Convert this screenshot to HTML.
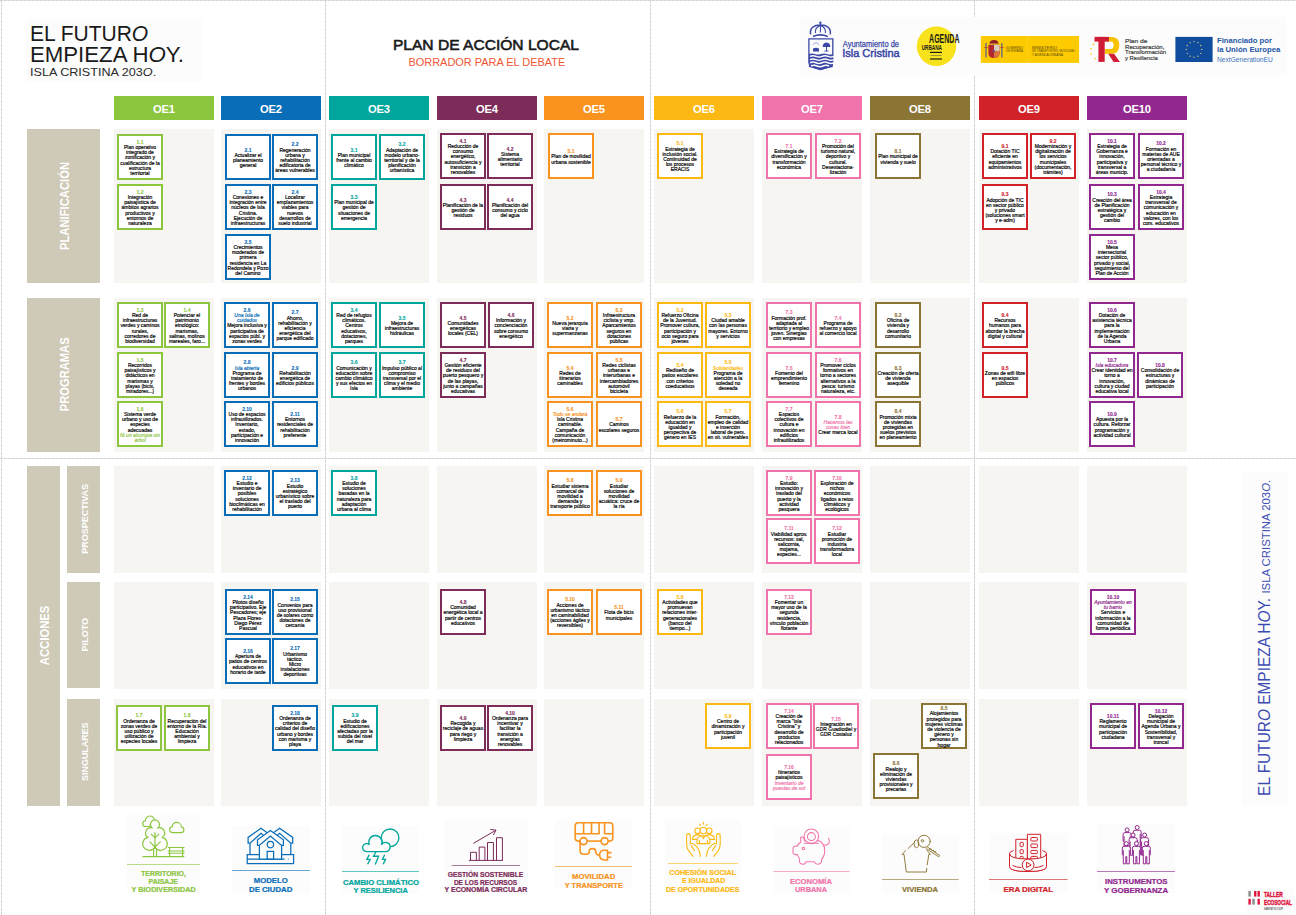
<!DOCTYPE html>
<html><head><meta charset="utf-8"><title>Plan de Acción Local</title>
<style>
*{margin:0;padding:0;box-sizing:border-box}
html,body{width:1296px;height:915px;overflow:hidden;background:#fff}
body{position:relative;font-family:"Liberation Sans",sans-serif;color:#1a1a1a}
.a{position:absolute}
.vd{position:absolute;top:0;width:1px;height:915px;background:repeating-linear-gradient(to bottom,#d4d4d4 0 3px,#ececec 3px 4px)}
.hd{position:absolute;left:0;height:1px;width:1296px;background:repeating-linear-gradient(to right,#d4d4d4 0 3px,#ececec 3px 4px)}
.oe{position:absolute;top:96px;width:100px;height:24px;color:#fff;font-weight:bold;font-size:11.2px;text-align:center;line-height:27px;letter-spacing:-0.2px;text-indent:-0.2px}
.col{position:absolute;width:100px;background:#f6f5f1}
.lab{position:absolute;background:#cfc9b7}
.lt{position:absolute;color:#fff;font-weight:bold;white-space:nowrap;transform-origin:0 0;transform:rotate(-90deg)}
.bx{position:absolute;width:46px;height:46px;border:2px solid;background:#fff;display:flex;align-items:center;justify-content:center}
.bt{font-size:5px;line-height:5.24px;font-weight:normal;text-align:center;white-space:nowrap;color:#000;-webkit-text-stroke:0.18px #000;position:relative;top:1px}
.bt i{font-style:italic}
.ic{position:absolute;background:#fcfcfc}
.it{position:absolute;font-weight:bold;text-align:center;white-space:nowrap;font-size:6.8px;line-height:8px}
</style></head><body>

<div class="hd" style="top:0"></div>
<div class="vd" style="left:1px"></div>
<div class="vd" style="left:325px"></div>
<div class="vd" style="left:650px"></div>
<div class="vd" style="left:974px"></div>
<div class="hd" style="top:458px"></div>
<div class="a" style="left:26px;top:20px;width:176px;height:62px;background:#fcfcfc"></div>
<svg class="a" style="left:0;top:0;overflow:visible" width="1" height="1"><text x="29.9" y="41.1" textLength="118.3" lengthAdjust="spacingAndGlyphs" font-family="Liberation Sans" font-size="22" fill="#1a1a1a">EL FUTUR<tspan font-style="italic">O</tspan></text><text x="29.9" y="61.9" textLength="154.1" lengthAdjust="spacingAndGlyphs" font-family="Liberation Sans" font-size="22" fill="#1a1a1a">EMPIEZA H<tspan font-style="italic">O</tspan>Y.</text><text x="30" y="75.9" textLength="126.2" lengthAdjust="spacingAndGlyphs" font-family="Liberation Sans" font-size="11.6" fill="#2a2a2a">ISLA CRISTINA 203<tspan font-style="italic">O</tspan>.</text><text x="392.9" y="50.1" textLength="186.1" lengthAdjust="spacingAndGlyphs" font-family="Liberation Sans" font-size="13.9" fill="#1a1a1a" stroke="#1a1a1a" stroke-width="0.55">PLAN DE ACCIÓN LOCAL</text><text x="408.4" y="66" textLength="157" lengthAdjust="spacingAndGlyphs" font-family="Liberation Sans" font-size="11" fill="#ef5535">BORRADOR PARA EL DEBATE</text></svg>
<div class="a" style="left:800px;top:17px;width:487px;height:58px;background:#fcfcfc"></div>
<svg class="a" style="left:808px;top:17px;overflow:visible" width="26" height="54" viewBox="0 0 26 54" ><g stroke="#3a47a6" fill="none"><circle cx="12.4" cy="5.8" r="1.2" fill="#3a47a6" stroke="none"/><path d="M12.4 6.8V15.6" stroke-width="1.1"/><path d="M2.6 17.4C1.4 11 6 8 12.4 8C18.8 8 23.4 11 22.2 17.4" stroke-width="1.5"/><path d="M7.4 16.2Q6.6 10.6 12.4 8.6M17.4 16.2Q18.2 10.6 12.4 8.6" stroke-width="1.1"/><path d="M5 19.4Q12.4 16.4 19.8 19.4" stroke-width="1.6"/><path d="M0.9 21.9H24.8V45.5Q24.8 49.5 12.4 52.6Q0.9 49.5 0.9 45.5Z" stroke-width="1.3"/></g><g fill="#3a47a6"><path d="M5 31.5Q8 30.2 11 31.5V34.5H5Z"/><path d="M4.6 28Q7.8 23.5 11.3 28" fill="none" stroke="#3a47a6" stroke-width="0.5"/><path d="M14.8 30Q14.2 26 18.5 25.4Q22.8 26 22.2 30Z"/><rect x="18" y="29.5" width="1" height="4.4"/><rect x="16.4" y="33.6" width="4.2" height="0.9"/><path d="M0.9 37Q4 35.8 6.9 37T12.9 37T18.9 37T24.8 37V50L12.4 53L0.9 50Z"/></g><g stroke="#fcfcfc" stroke-width="1.5" fill="none"><path d="M2 39.4Q5 38 8 39.4T14 39.4T20 39.4T26 39.4"/><path d="M2 42.6Q5 41.2 8 42.6T14 42.6T20 42.6T26 42.6"/><path d="M2 45.8Q5 44.4 8 45.8T14 45.8T20 45.8T26 45.8"/><path d="M3 49Q6 47.6 9 49T15 49T21 49"/></g></svg>
<svg class="a" style="left:0;top:0;overflow:visible" width="1" height="1"><text x="842.8" y="46.5" textLength="56.200000000000045" lengthAdjust="spacingAndGlyphs" font-family="Liberation Sans" font-weight="normal" font-size="8.6" fill="#3a47a6" stroke="#3a47a6" stroke-width="0.25">Ayuntamiento de</text><text x="842.2" y="56.9" textLength="57.5" lengthAdjust="spacingAndGlyphs" font-family="Liberation Sans" font-weight="normal" font-size="10.5" fill="#3a47a6" stroke="#3a47a6" stroke-width="0.45">Isla Cristina</text></svg>
<svg class="a" style="left:0;top:0;overflow:visible" width="1" height="1"><circle cx="936.5" cy="46.2" r="19.7" fill="#f7e21b"/><text x="929.1" y="42.7" textLength="30.399999999999977" lengthAdjust="spacingAndGlyphs" font-family="Liberation Sans" font-weight="bold" font-size="12.5" fill="#1a1a1a" >AGENDA</text><text x="921.7" y="49.8" textLength="20.299999999999955" lengthAdjust="spacingAndGlyphs" font-family="Liberation Sans" font-weight="bold" font-size="7.8" fill="#1a1a1a" >URBANA</text><rect x="930" y="51.8" width="12" height="1.2" fill="#1a1a1a"/><rect x="930" y="58.4" width="12" height="1.2" fill="#1a1a1a"/><rect x="930.5" y="55" width="11" height="0.9" fill="#555" opacity="0.6"/></svg>
<svg class="a" style="left:0;top:0;overflow:visible" width="1" height="1"><rect x="980.8" y="36" width="98.3" height="26.9" fill="#fdcb00"/><path d="M1027.4 37V62" stroke="#fde58a" stroke-width="0.5" stroke-dasharray="1 1"/><rect x="985.2" y="43" width="1.6" height="14.5" fill="#7d7a70"/><rect x="1001" y="43" width="1.6" height="14.5" fill="#7d7a70"/><path d="M988.4 45H999.6V53Q999.6 58 994 58Q988.4 58 988.4 53Z" fill="#b3262e"/><rect x="994" y="45" width="5.6" height="6" fill="#d8cdbd"/><path d="M994 51H999.6V53Q999.6 58 994 58Z" fill="#d9763a"/><circle cx="994" cy="51" r="1.3" fill="#6d5a8a"/><path d="M989.5 44.2Q989.5 40 994 40Q998.5 40 998.5 44.2Z" fill="#8e1f2a"/><rect x="990" y="43.4" width="8" height="1.2" fill="#c9a13c"/><rect x="984.4" y="47" width="3.2" height="0.8" fill="#c42c2c"/><rect x="1000.4" y="47" width="3.2" height="0.8" fill="#c42c2c"/><text x="1006" y="48.6" textLength="17" lengthAdjust="spacingAndGlyphs" font-family="Liberation Sans" font-weight="normal" font-size="3.6" fill="#5a4a10" >GOBIERNO</text><text x="1006" y="52.4" textLength="17" lengthAdjust="spacingAndGlyphs" font-family="Liberation Sans" font-weight="normal" font-size="3.6" fill="#5a4a10" >DE ESPAÑA</text><text x="1032" y="48.6" textLength="25" lengthAdjust="spacingAndGlyphs" font-family="Liberation Sans" font-weight="normal" font-size="3.6" fill="#5a4a10" >MINISTERIO</text><text x="1032" y="52.2" textLength="43" lengthAdjust="spacingAndGlyphs" font-family="Liberation Sans" font-weight="normal" font-size="3.6" fill="#5a4a10" >DE TRANSPORTES, MOVILIDAD</text><text x="1032" y="55.8" textLength="31" lengthAdjust="spacingAndGlyphs" font-family="Liberation Sans" font-weight="normal" font-size="3.6" fill="#5a4a10" >Y AGENDA URBANA</text></svg>
<svg class="a" style="left:0;top:0;overflow:visible" width="1" height="1"><path d="M1105 36.9H1111.5Q1119.3 36.9 1119.3 45.3Q1119.3 53.7 1111.5 53.7H1104.7V49H1111Q1113.6 49 1113.6 45.3Q1113.6 41.6 1111 41.6H1105Z" fill="#f8c200"/><rect x="1094.5" y="36.9" width="14.4" height="4.7" fill="#cf1d36"/><rect x="1098.4" y="36.9" width="6.3" height="25" fill="#cf1d36"/><path d="M1108.2 53.7H1114L1120 62H1113.6Z" fill="#cf1d36"/><circle cx="1093.6" cy="44.4" r="0.8" fill="#f8c200"/><circle cx="1091" cy="48.8" r="0.8" fill="#f8c200"/><circle cx="1091.2" cy="54" r="0.8" fill="#f8c200"/><circle cx="1095.2" cy="58.8" r="0.8" fill="#f8c200"/><text x="1125" y="42.6" textLength="22.299999999999955" lengthAdjust="spacingAndGlyphs" font-family="Liberation Sans" font-weight="normal" font-size="6.2" fill="#3d3d3d" stroke="#3d3d3d" stroke-width="0.2">Plan de</text><text x="1125" y="48.6" textLength="39.40000000000009" lengthAdjust="spacingAndGlyphs" font-family="Liberation Sans" font-weight="normal" font-size="6.2" fill="#3d3d3d" stroke="#3d3d3d" stroke-width="0.2">Recuperación,</text><text x="1125" y="54.4" textLength="41" lengthAdjust="spacingAndGlyphs" font-family="Liberation Sans" font-weight="normal" font-size="6.2" fill="#3d3d3d" stroke="#3d3d3d" stroke-width="0.2">Transformación</text><text x="1125" y="60.2" textLength="32.799999999999955" lengthAdjust="spacingAndGlyphs" font-family="Liberation Sans" font-weight="normal" font-size="6.2" fill="#3d3d3d" stroke="#3d3d3d" stroke-width="0.2">y Resiliencia</text></svg>
<svg class="a" style="left:0;top:0;overflow:visible" width="1" height="1"><rect x="1175.4" y="36.9" width="37.2" height="25.1" fill="#0f4c9e"/><circle cx="1201.80" cy="49.40" r="0.65" fill="#ecd96b"/><circle cx="1200.75" cy="53.30" r="0.65" fill="#ecd96b"/><circle cx="1197.90" cy="56.15" r="0.65" fill="#ecd96b"/><circle cx="1194.00" cy="57.20" r="0.65" fill="#ecd96b"/><circle cx="1190.10" cy="56.15" r="0.65" fill="#ecd96b"/><circle cx="1187.25" cy="53.30" r="0.65" fill="#ecd96b"/><circle cx="1186.20" cy="49.40" r="0.65" fill="#ecd96b"/><circle cx="1187.25" cy="45.50" r="0.65" fill="#ecd96b"/><circle cx="1190.10" cy="42.65" r="0.65" fill="#ecd96b"/><circle cx="1194.00" cy="41.60" r="0.65" fill="#ecd96b"/><circle cx="1197.90" cy="42.65" r="0.65" fill="#ecd96b"/><circle cx="1200.75" cy="45.50" r="0.65" fill="#ecd96b"/><text x="1217" y="42.6" textLength="54.90000000000009" lengthAdjust="spacingAndGlyphs" font-family="Liberation Sans" font-weight="bold" font-size="7.4" fill="#1f56a6" >Financiado por</text><text x="1217" y="52.1" textLength="63.200000000000045" lengthAdjust="spacingAndGlyphs" font-family="Liberation Sans" font-weight="bold" font-size="7.4" fill="#1f56a6" >la Unión Europea</text><text x="1217" y="61.8" textLength="55.799999999999955" lengthAdjust="spacingAndGlyphs" font-family="Liberation Sans" font-weight="normal" font-size="6.4" fill="#3a74bb" >NextGenerationEU</text></svg>
<div class="a" style="left:1242px;top:472px;width:46px;height:333px;background:#fcfcfc"></div>
<svg class="a" style="left:0;top:0;overflow:visible" width="1" height="1"><text transform="translate(1269.6 795.9) rotate(-90)" font-family="Liberation Sans" font-size="16.4" fill="#3b4ab2" textLength="198" lengthAdjust="spacingAndGlyphs">EL FUTUR<tspan font-style="italic">O</tspan> EMPIEZA H<tspan font-style="italic">O</tspan>Y.</text><text transform="translate(1269.6 593.6) rotate(-90)" font-family="Liberation Sans" font-size="11.6" fill="#4050b4" textLength="113.8" lengthAdjust="spacingAndGlyphs">ISLA CRISTINA 203<tspan font-style="italic">O</tspan>.</text></svg>
<svg class="a" style="left:0;top:0;overflow:visible" width="1" height="1"><rect x="1247" y="889" width="48" height="24" fill="#fcfcfc"/><rect x="1248.4" y="891" width="2.4" height="5.6" fill="#8a8a8a"/><rect x="1254" y="891" width="2.4" height="5.6" fill="#e0163f"/><rect x="1257.5" y="891" width="2.4" height="5.6" fill="#e0163f"/><rect x="1248.4" y="898.8" width="2.4" height="5.8" fill="#e0163f"/><rect x="1252.3" y="898.8" width="2.4" height="5.8" fill="#8a8a8a"/><rect x="1257.5" y="898.8" width="2.4" height="5.8" fill="#e0163f"/><text x="1264" y="896.6" textLength="18.799999999999955" lengthAdjust="spacingAndGlyphs" font-family="Liberation Sans" font-weight="bold" font-size="7.6" fill="#e0163f" stroke="#e0163f" stroke-width="0.45">TALLER</text><text x="1264" y="904.6" textLength="27.90000000000009" lengthAdjust="spacingAndGlyphs" font-family="Liberation Sans" font-weight="bold" font-size="7.6" fill="#e0163f" stroke="#e0163f" stroke-width="0.45">ECOSOCIAL</text><text x="1264" y="909.8" textLength="19" lengthAdjust="spacingAndGlyphs" font-family="Liberation Sans" font-weight="bold" font-size="3.2" fill="#555" >HÁBITAT E COOP</text></svg>
<div class="oe" style="left:114px;background:#8cc63f">OE1</div>
<div class="oe" style="left:221px;background:#0a6db7">OE2</div>
<div class="oe" style="left:329px;background:#00a69c">OE3</div>
<div class="oe" style="left:437px;background:#7d2b59">OE4</div>
<div class="oe" style="left:544px;background:#f7931e">OE5</div>
<div class="oe" style="left:654px;background:#fdb913">OE6</div>
<div class="oe" style="left:762px;background:#f074ab">OE7</div>
<div class="oe" style="left:870px;background:#8b7535">OE8</div>
<div class="oe" style="left:979px;background:#d1222a">OE9</div>
<div class="oe" style="left:1087px;background:#92278f">OE10</div>
<div class="col" style="left:114px;top:129px;height:154px"></div>
<div class="col" style="left:221px;top:129px;height:154px"></div>
<div class="col" style="left:329px;top:129px;height:154px"></div>
<div class="col" style="left:437px;top:129px;height:154px"></div>
<div class="col" style="left:544px;top:129px;height:154px"></div>
<div class="col" style="left:654px;top:129px;height:154px"></div>
<div class="col" style="left:762px;top:129px;height:154px"></div>
<div class="col" style="left:870px;top:129px;height:154px"></div>
<div class="col" style="left:979px;top:129px;height:154px"></div>
<div class="col" style="left:1087px;top:129px;height:154px"></div>
<div class="col" style="left:114px;top:298px;height:154px"></div>
<div class="col" style="left:221px;top:298px;height:154px"></div>
<div class="col" style="left:329px;top:298px;height:154px"></div>
<div class="col" style="left:437px;top:298px;height:154px"></div>
<div class="col" style="left:544px;top:298px;height:154px"></div>
<div class="col" style="left:654px;top:298px;height:154px"></div>
<div class="col" style="left:762px;top:298px;height:154px"></div>
<div class="col" style="left:870px;top:298px;height:154px"></div>
<div class="col" style="left:979px;top:298px;height:154px"></div>
<div class="col" style="left:1087px;top:298px;height:154px"></div>
<div class="col" style="left:114px;top:466px;height:107px"></div>
<div class="col" style="left:221px;top:466px;height:107px"></div>
<div class="col" style="left:329px;top:466px;height:107px"></div>
<div class="col" style="left:437px;top:466px;height:107px"></div>
<div class="col" style="left:544px;top:466px;height:107px"></div>
<div class="col" style="left:654px;top:466px;height:107px"></div>
<div class="col" style="left:762px;top:466px;height:107px"></div>
<div class="col" style="left:870px;top:466px;height:107px"></div>
<div class="col" style="left:979px;top:466px;height:107px"></div>
<div class="col" style="left:1087px;top:466px;height:107px"></div>
<div class="col" style="left:114px;top:582px;height:107px"></div>
<div class="col" style="left:221px;top:582px;height:107px"></div>
<div class="col" style="left:329px;top:582px;height:107px"></div>
<div class="col" style="left:437px;top:582px;height:107px"></div>
<div class="col" style="left:544px;top:582px;height:107px"></div>
<div class="col" style="left:654px;top:582px;height:107px"></div>
<div class="col" style="left:762px;top:582px;height:107px"></div>
<div class="col" style="left:870px;top:582px;height:107px"></div>
<div class="col" style="left:979px;top:582px;height:107px"></div>
<div class="col" style="left:1087px;top:582px;height:107px"></div>
<div class="col" style="left:114px;top:699px;height:107px"></div>
<div class="col" style="left:221px;top:699px;height:107px"></div>
<div class="col" style="left:329px;top:699px;height:107px"></div>
<div class="col" style="left:437px;top:699px;height:107px"></div>
<div class="col" style="left:544px;top:699px;height:107px"></div>
<div class="col" style="left:654px;top:699px;height:107px"></div>
<div class="col" style="left:762px;top:699px;height:107px"></div>
<div class="col" style="left:870px;top:699px;height:107px"></div>
<div class="col" style="left:979px;top:699px;height:107px"></div>
<div class="col" style="left:1087px;top:699px;height:107px"></div>
<div class="lab" style="left:27px;top:129px;width:73px;height:154px"></div>
<div class="lab" style="left:27px;top:298px;width:73px;height:154px"></div>
<div class="lab" style="left:27px;top:466px;width:33px;height:340px"></div>
<div class="lab" style="left:67px;top:466px;width:33px;height:107px"></div>
<div class="lab" style="left:67px;top:582px;width:33px;height:106px"></div>
<div class="lab" style="left:67px;top:699px;width:33px;height:107px"></div>
<svg class="a" style="left:0;top:0;overflow:visible" width="1" height="1"><text transform="translate(68.8 206) rotate(-90)" text-anchor="middle" font-family="Liberation Sans" font-weight="bold" font-size="12.6" fill="#fff" textLength="88" lengthAdjust="spacingAndGlyphs">PLANIFICACIÓN</text></svg>
<svg class="a" style="left:0;top:0;overflow:visible" width="1" height="1"><text transform="translate(68.8 374.35) rotate(-90)" text-anchor="middle" font-family="Liberation Sans" font-weight="bold" font-size="12.6" fill="#fff" textLength="73.9" lengthAdjust="spacingAndGlyphs">PROGRAMAS</text></svg>
<svg class="a" style="left:0;top:0;overflow:visible" width="1" height="1"><text transform="translate(48.6 635.4) rotate(-90)" text-anchor="middle" font-family="Liberation Sans" font-weight="bold" font-size="12" fill="#fff" textLength="59.6" lengthAdjust="spacingAndGlyphs">ACCIONES</text></svg>
<svg class="a" style="left:0;top:0;overflow:visible" width="1" height="1"><text transform="translate(87.7 518.85) rotate(-90)" text-anchor="middle" font-family="Liberation Sans" font-weight="bold" font-size="9.6" fill="#fff" textLength="70" lengthAdjust="spacingAndGlyphs">PROSPECTIVAS</text></svg>
<svg class="a" style="left:0;top:0;overflow:visible" width="1" height="1"><text transform="translate(87.6 634.7) rotate(-90)" text-anchor="middle" font-family="Liberation Sans" font-weight="bold" font-size="9.6" fill="#fff" textLength="33.4" lengthAdjust="spacingAndGlyphs">PILOTO</text></svg>
<svg class="a" style="left:0;top:0;overflow:visible" width="1" height="1"><text transform="translate(87.6 751.7) rotate(-90)" text-anchor="middle" font-family="Liberation Sans" font-weight="bold" font-size="9.6" fill="#fff" textLength="58.4" lengthAdjust="spacingAndGlyphs">SINGULARES</text></svg>
<div class="bx" style="left:117px;top:134px;border-color:#8cc63f"><div class="bt"><b style="color:#8cc63f;-webkit-text-stroke:0.1px #8cc63f">1.1</b><br>Plan operativo<br>integrado de<br>zonificación y<br>cualificación de la<br>estructura<br>territorial</div></div>
<div class="bx" style="left:117px;top:184px;border-color:#8cc63f"><div class="bt"><b style="color:#8cc63f;-webkit-text-stroke:0.1px #8cc63f">1.2</b><br>Integración<br>paisajística de<br>ámbitos agrarios<br>productivos y<br>entornos de<br>naturaleza</div></div>
<div class="bx" style="left:225px;top:134px;border-color:#0a6db7"><div class="bt"><b style="color:#0a6db7;-webkit-text-stroke:0.1px #0a6db7">2.1</b><br>Actualizar el<br>planeamiento<br>general</div></div>
<div class="bx" style="left:272px;top:134px;border-color:#0a6db7"><div class="bt"><b style="color:#0a6db7;-webkit-text-stroke:0.1px #0a6db7">2.2</b><br>Regeneración<br>urbana y<br>rehabilitación<br>edificatoria de<br>áreas vulnerables</div></div>
<div class="bx" style="left:225px;top:184px;border-color:#0a6db7"><div class="bt"><b style="color:#0a6db7;-webkit-text-stroke:0.1px #0a6db7">2.3</b><br>Conexiones e<br>integración entre<br>núcleos de Isla<br>Cristina.<br>Ejecución de<br>infraestructuras</div></div>
<div class="bx" style="left:272px;top:184px;border-color:#0a6db7"><div class="bt"><b style="color:#0a6db7;-webkit-text-stroke:0.1px #0a6db7">2.4</b><br>Localizar<br>emplazamientos<br>viables para<br>nuevos<br>desarrollos de<br>suelo industrial</div></div>
<div class="bx" style="left:225px;top:234px;border-color:#0a6db7"><div class="bt"><b style="color:#0a6db7;-webkit-text-stroke:0.1px #0a6db7">2.5</b><br>Crecimientos<br>moderados de<br>primera<br>residencia en La<br>Redondela y Pozo<br>del Camino</div></div>
<div class="bx" style="left:331px;top:134px;border-color:#00a69c"><div class="bt"><b style="color:#00a69c;-webkit-text-stroke:0.1px #00a69c">3.1</b><br>Plan municipal<br>frente al cambio<br>climático</div></div>
<div class="bx" style="left:379px;top:134px;border-color:#00a69c"><div class="bt"><b style="color:#00a69c;-webkit-text-stroke:0.1px #00a69c">3.2</b><br>Adaptación de<br>modelo urbano-<br>territorial y de la<br>planificación<br>urbanística</div></div>
<div class="bx" style="left:331px;top:184px;border-color:#00a69c"><div class="bt"><b style="color:#00a69c;-webkit-text-stroke:0.1px #00a69c">3.3</b><br>Plan municipal de<br>gestión de<br>situaciones de<br>emergencia</div></div>
<div class="bx" style="left:440px;top:133px;border-color:#7d2b59"><div class="bt"><b style="color:#7d2b59;-webkit-text-stroke:0.1px #7d2b59">4.1</b><br>Reducción de<br>consumo<br>energético,<br>autosuficiencia y<br>transición a<br>renovables</div></div>
<div class="bx" style="left:487px;top:133px;border-color:#7d2b59"><div class="bt"><b style="color:#7d2b59;-webkit-text-stroke:0.1px #7d2b59">4.2</b><br>Sistema<br>alimentario<br>territorial</div></div>
<div class="bx" style="left:440px;top:184px;border-color:#7d2b59"><div class="bt"><b style="color:#7d2b59;-webkit-text-stroke:0.1px #7d2b59">4.3</b><br>Planificación de la<br>gestión de<br>residuos</div></div>
<div class="bx" style="left:487px;top:184px;border-color:#7d2b59"><div class="bt"><b style="color:#7d2b59;-webkit-text-stroke:0.1px #7d2b59">4.4</b><br>Planificación del<br>consumo y ciclo<br>del agua</div></div>
<div class="bx" style="left:548px;top:133px;border-color:#f7931e"><div class="bt"><b style="color:#f7931e;-webkit-text-stroke:0.1px #f7931e">5.1</b><br>Plan de movilidad<br>urbana sostenible</div></div>
<div class="bx" style="left:657px;top:133px;border-color:#fdb913"><div class="bt"><b style="color:#fdb913;-webkit-text-stroke:0.1px #fdb913">5.1</b><br>Estrategia de<br>inclusión social.<br>Continuidad de<br>los procesos<br>ERACIS</div></div>
<div class="bx" style="left:766px;top:133px;border-color:#f074ab"><div class="bt"><b style="color:#f074ab;-webkit-text-stroke:0.1px #f074ab">7.1</b><br>Estrategia de<br>diversificación y<br>transformación<br>económica</div></div>
<div class="bx" style="left:815px;top:133px;border-color:#f074ab"><div class="bt"><b style="color:#f074ab;-webkit-text-stroke:0.1px #f074ab">7.2</b><br>Promoción del<br>turismo natural,<br>deportivo y<br>cultural.<br>Desestaciona-<br>lización</div></div>
<div class="bx" style="left:875px;top:133px;border-color:#8b7535"><div class="bt"><b style="color:#8b7535;-webkit-text-stroke:0.1px #8b7535">8.1</b><br>Plan municipal de<br>vivienda y suelo</div></div>
<div class="bx" style="left:982px;top:133px;border-color:#d1222a"><div class="bt"><b style="color:#d1222a;-webkit-text-stroke:0.1px #d1222a">9.1</b><br>Dotación TIC<br>eficiente en<br>equipamientos<br>administrativos</div></div>
<div class="bx" style="left:1030px;top:133px;border-color:#d1222a"><div class="bt"><b style="color:#d1222a;-webkit-text-stroke:0.1px #d1222a">9.2</b><br>Modernización y<br>digitalización de<br>los servicios<br>municipales<br>(documentación,<br>trámites)</div></div>
<div class="bx" style="left:982px;top:184px;border-color:#d1222a"><div class="bt"><b style="color:#d1222a;-webkit-text-stroke:0.1px #d1222a">9.3</b><br>Adopción de TIC<br>en sector público<br>y privado<br>(soluciones smart<br>y e-adm)</div></div>
<div class="bx" style="left:1089px;top:133px;border-color:#92278f"><div class="bt"><b style="color:#92278f;-webkit-text-stroke:0.1px #92278f">10.1</b><br>Estrategia de<br>Gobernanza e<br>innovación,<br>participativa y<br>transversal a<br>áreas municip.</div></div>
<div class="bx" style="left:1138px;top:133px;border-color:#92278f"><div class="bt"><b style="color:#92278f;-webkit-text-stroke:0.1px #92278f">10.2</b><br>Formación en<br>materias de AUE<br>orientadas a<br>personal técnico y<br>a ciudadanía</div></div>
<div class="bx" style="left:1089px;top:184px;border-color:#92278f"><div class="bt"><b style="color:#92278f;-webkit-text-stroke:0.1px #92278f">10.3</b><br>Creación del área<br>de Planificación<br>estratégica y<br>gestión del<br>cambio</div></div>
<div class="bx" style="left:1138px;top:184px;border-color:#92278f"><div class="bt"><b style="color:#92278f;-webkit-text-stroke:0.1px #92278f">10.4</b><br>Estrategia<br>transversal de<br>comunicación y<br>educación en<br>valores, con los<br>cors. educativos</div></div>
<div class="bx" style="left:1089px;top:234px;border-color:#92278f"><div class="bt"><b style="color:#92278f;-webkit-text-stroke:0.1px #92278f">10.5</b><br>Mesa<br>intersectorial<br>sector público,<br>privado y social,<br>seguimiento del<br>Plan de Acción</div></div>
<div class="bx" style="left:117px;top:302px;border-color:#8cc63f"><div class="bt"><b style="color:#8cc63f;-webkit-text-stroke:0.1px #8cc63f">1.3</b><br>Red de<br>infraestructuras<br>verdes y caminos<br>rurales,<br>corredores de<br>biodiversidad</div></div>
<div class="bx" style="left:164px;top:302px;border-color:#8cc63f"><div class="bt"><b style="color:#8cc63f;-webkit-text-stroke:0.1px #8cc63f">1.4</b><br>Potenciar el<br>patrimonio<br>etnológico:<br>marismas,<br>salinas, molinos<br>mareales, faro...</div></div>
<div class="bx" style="left:117px;top:352px;border-color:#8cc63f"><div class="bt"><b style="color:#8cc63f;-webkit-text-stroke:0.1px #8cc63f">1.5</b><br>Recorridos<br>paisajísticos y<br>didácticos en<br>marismas y<br>playas (bicis,<br>miradores...)</div></div>
<div class="bx" style="left:117px;top:401px;border-color:#8cc63f"><div class="bt"><b style="color:#8cc63f;-webkit-text-stroke:0.1px #8cc63f">1.6</b><br>Sistema verde<br>urbano y uso de<br>especies<br>adecuadas<br><i style="color:#8cc63f;-webkit-text-stroke-color:#8cc63f">Ni un alcorque sin</i><br><i style="color:#8cc63f;-webkit-text-stroke-color:#8cc63f">árbol</i></div></div>
<div class="bx" style="left:224px;top:302px;border-color:#0a6db7"><div class="bt"><b style="color:#0a6db7;-webkit-text-stroke:0.1px #0a6db7">2.6</b><br><i style="color:#0a6db7;-webkit-text-stroke-color:#0a6db7">Una Isla de</i><br><i style="color:#0a6db7;-webkit-text-stroke-color:#0a6db7">cuidados</i><br>Mejora inclusiva y<br>participativa de<br>espacios públ. y<br>zonas verdes</div></div>
<div class="bx" style="left:272px;top:302px;border-color:#0a6db7"><div class="bt"><b style="color:#0a6db7;-webkit-text-stroke:0.1px #0a6db7">2.7</b><br>Ahorro,<br>rehabilitación y<br>eficiencia<br>energética del<br>parque edificado</div></div>
<div class="bx" style="left:224px;top:352px;border-color:#0a6db7"><div class="bt"><b style="color:#0a6db7;-webkit-text-stroke:0.1px #0a6db7">2.8</b><br><i style="color:#0a6db7;-webkit-text-stroke-color:#0a6db7">Isla abierta</i><br>Programa de<br>tratamiento de<br>frentes y bordes<br>urbanos</div></div>
<div class="bx" style="left:272px;top:352px;border-color:#0a6db7"><div class="bt"><b style="color:#0a6db7;-webkit-text-stroke:0.1px #0a6db7">2.9</b><br>Rehabilitación<br>energética de<br>edificios públicos</div></div>
<div class="bx" style="left:224px;top:401px;border-color:#0a6db7"><div class="bt"><b style="color:#0a6db7;-webkit-text-stroke:0.1px #0a6db7">2.10</b><br>Uso de espacios<br>infrautilizados.<br>Inventario,<br>estado,<br>participación e<br>innovación</div></div>
<div class="bx" style="left:272px;top:401px;border-color:#0a6db7"><div class="bt"><b style="color:#0a6db7;-webkit-text-stroke:0.1px #0a6db7">2.11</b><br>Entornos<br>residenciales de<br>rehabilitación<br>preferente</div></div>
<div class="bx" style="left:331px;top:302px;border-color:#00a69c"><div class="bt"><b style="color:#00a69c;-webkit-text-stroke:0.1px #00a69c">3.4</b><br>Red de refugios<br>climáticos.<br>Centros<br>educativos,<br>dotaciones,<br>parques</div></div>
<div class="bx" style="left:379px;top:302px;border-color:#00a69c"><div class="bt"><b style="color:#00a69c;-webkit-text-stroke:0.1px #00a69c">3.5</b><br>Mejora de<br>infraestructuras<br>hidráulicas</div></div>
<div class="bx" style="left:331px;top:352px;border-color:#00a69c"><div class="bt"><b style="color:#00a69c;-webkit-text-stroke:0.1px #00a69c">3.6</b><br>Comunicación y<br>educación sobre<br>cambio climático<br>y sus efectos en<br>Isla</div></div>
<div class="bx" style="left:379px;top:352px;border-color:#00a69c"><div class="bt"><b style="color:#00a69c;-webkit-text-stroke:0.1px #00a69c">3.7</b><br>Impulso público al<br>compromiso<br>transversal por el<br>clima y el medio<br>ambiente</div></div>
<div class="bx" style="left:440px;top:302px;border-color:#7d2b59"><div class="bt"><b style="color:#7d2b59;-webkit-text-stroke:0.1px #7d2b59">4.5</b><br>Comunidades<br>energéticas<br>locales (CEL)</div></div>
<div class="bx" style="left:488px;top:302px;border-color:#7d2b59"><div class="bt"><b style="color:#7d2b59;-webkit-text-stroke:0.1px #7d2b59">4.6</b><br>Información y<br>concienciación<br>sobre consumo<br>energético</div></div>
<div class="bx" style="left:440px;top:352px;border-color:#7d2b59"><div class="bt"><b style="color:#7d2b59;-webkit-text-stroke:0.1px #7d2b59">4.7</b><br>Gestión eficiente<br>de residuos del<br>puerto pesquero y<br>de las playas,<br>junto a campañas<br>educativas</div></div>
<div class="bx" style="left:547px;top:302px;border-color:#f7931e"><div class="bt"><b style="color:#f7931e;-webkit-text-stroke:0.1px #f7931e">5.2</b><br>Nueva jerarquía<br>viaria y<br>supermanzanas</div></div>
<div class="bx" style="left:596px;top:302px;border-color:#f7931e"><div class="bt"><b style="color:#f7931e;-webkit-text-stroke:0.1px #f7931e">5.3</b><br>Infraestructura<br>ciclista y vmp.<br>Aparcamientos<br>seguros en<br>dotaciones<br>públicas</div></div>
<div class="bx" style="left:547px;top:352px;border-color:#f7931e"><div class="bt"><b style="color:#f7931e;-webkit-text-stroke:0.1px #f7931e">5.4</b><br>Redes de<br>itinerarios<br>caminables</div></div>
<div class="bx" style="left:596px;top:352px;border-color:#f7931e"><div class="bt"><b style="color:#f7931e;-webkit-text-stroke:0.1px #f7931e">5.5</b><br>Redes ciclistas<br>urbanas e<br>interurbanas e<br>intercambiadores<br>automóvil<br>bicicleta</div></div>
<div class="bx" style="left:547px;top:401px;border-color:#f7931e"><div class="bt"><b style="color:#f7931e;-webkit-text-stroke:0.1px #f7931e">5.6</b><br><i style="color:#f7931e;-webkit-text-stroke-color:#f7931e">Todo se andará</i><br>Isla Cristina<br>caminable.<br>Campaña de<br>comunicación<br>(metrominuto...)</div></div>
<div class="bx" style="left:596px;top:401px;border-color:#f7931e"><div class="bt"><b style="color:#f7931e;-webkit-text-stroke:0.1px #f7931e">5.7</b><br>Caminos<br>escolares seguros</div></div>
<div class="bx" style="left:657px;top:302px;border-color:#fdb913"><div class="bt"><b style="color:#fdb913;-webkit-text-stroke:0.1px #fdb913">5.2</b><br>Refuerzo Oficina<br>de la Juventud.<br>Promover cultura,<br>participación y<br>ocio seguro para<br>jóvenes</div></div>
<div class="bx" style="left:705px;top:302px;border-color:#fdb913"><div class="bt"><b style="color:#fdb913;-webkit-text-stroke:0.1px #fdb913">5.3</b><br>Ciudad amable<br>con las personas<br>mayores. Entorno<br>y servicios</div></div>
<div class="bx" style="left:657px;top:352px;border-color:#fdb913"><div class="bt"><b style="color:#fdb913;-webkit-text-stroke:0.1px #fdb913">5.4</b><br>Rediseño de<br>patios escolares<br>con criterios<br>coeducativos</div></div>
<div class="bx" style="left:705px;top:352px;border-color:#fdb913"><div class="bt"><b style="color:#fdb913;-webkit-text-stroke:0.1px #fdb913">5.5</b><br><i style="color:#fdb913;-webkit-text-stroke-color:#fdb913">Solidaridades</i><br>Programa de<br>atención a la<br>soledad no<br>deseada</div></div>
<div class="bx" style="left:657px;top:401px;border-color:#fdb913"><div class="bt"><b style="color:#fdb913;-webkit-text-stroke:0.1px #fdb913">5.6</b><br>Refuerzo de la<br>educación en<br>igualdad y<br>perspectiva de<br>género en IES</div></div>
<div class="bx" style="left:705px;top:401px;border-color:#fdb913"><div class="bt"><b style="color:#fdb913;-webkit-text-stroke:0.1px #fdb913">5.7</b><br>Formación,<br>empleo de calidad<br>e inserción<br>laboral de pers.<br>en sit. vulnerables</div></div>
<div class="bx" style="left:766px;top:302px;border-color:#f074ab"><div class="bt"><b style="color:#f074ab;-webkit-text-stroke:0.1px #f074ab">7.3</b><br>Formación prof.<br>adaptada al<br>territorio y empleo<br>joven. Sinergias<br>con empresas</div></div>
<div class="bx" style="left:815px;top:302px;border-color:#f074ab"><div class="bt"><b style="color:#f074ab;-webkit-text-stroke:0.1px #f074ab">7.4</b><br>Programa de<br>refuerzo y apoyo<br>al comercio local</div></div>
<div class="bx" style="left:766px;top:352px;border-color:#f074ab"><div class="bt"><b style="color:#f074ab;-webkit-text-stroke:0.1px #f074ab">7.5</b><br>Fomento del<br>emprendimiento<br>femenino</div></div>
<div class="bx" style="left:815px;top:352px;border-color:#f074ab"><div class="bt"><b style="color:#f074ab;-webkit-text-stroke:0.1px #f074ab">7.6</b><br>Promover ciclos<br>formativos en<br>torno a sectores<br>alternativos a la<br>pesca: turismo<br>naturaleza, etc.</div></div>
<div class="bx" style="left:766px;top:401px;border-color:#f074ab"><div class="bt"><b style="color:#f074ab;-webkit-text-stroke:0.1px #f074ab">7.7</b><br>Espacios<br>colectivos de<br>cultura e<br>innovación en<br>edificios<br>infrautilizados</div></div>
<div class="bx" style="left:815px;top:401px;border-color:#f074ab"><div class="bt"><b style="color:#f074ab;-webkit-text-stroke:0.1px #f074ab">7.8</b><br><i style="color:#f074ab;-webkit-text-stroke-color:#f074ab">Hacemos las</i><br><i style="color:#f074ab;-webkit-text-stroke-color:#f074ab">cosas bien</i><br>Crear marca local</div></div>
<div class="bx" style="left:875px;top:302px;border-color:#8b7535"><div class="bt"><b style="color:#8b7535;-webkit-text-stroke:0.1px #8b7535">8.2</b><br>Oficina de<br>vivienda y<br>desarrollo<br>comunitario</div></div>
<div class="bx" style="left:875px;top:352px;border-color:#8b7535"><div class="bt"><b style="color:#8b7535;-webkit-text-stroke:0.1px #8b7535">8.3</b><br>Creación de oferta<br>de vivienda<br>asequible</div></div>
<div class="bx" style="left:875px;top:401px;border-color:#8b7535"><div class="bt"><b style="color:#8b7535;-webkit-text-stroke:0.1px #8b7535">8.4</b><br>Promoción mixta<br>de viviendas<br>protegidas en<br>suelos previstos<br>en planeamiento</div></div>
<div class="bx" style="left:982px;top:302px;border-color:#d1222a"><div class="bt"><b style="color:#d1222a;-webkit-text-stroke:0.1px #d1222a">9.4</b><br>Recursos<br>humanos para<br>abordar la brecha<br>digital y cultural</div></div>
<div class="bx" style="left:982px;top:352px;border-color:#d1222a"><div class="bt"><b style="color:#d1222a;-webkit-text-stroke:0.1px #d1222a">9.5</b><br>Zonas de wifi libre<br>en espacios<br>públicos</div></div>
<div class="bx" style="left:1089px;top:302px;border-color:#92278f"><div class="bt"><b style="color:#92278f;-webkit-text-stroke:0.1px #92278f">10.6</b><br>Dotación de<br>asistencia técnica<br>para la<br>implementación<br>de la Agenda<br>Urbana</div></div>
<div class="bx" style="left:1089px;top:352px;border-color:#92278f"><div class="bt"><b style="color:#92278f;-webkit-text-stroke:0.1px #92278f">10.7</b><br><i style="color:#92278f;-webkit-text-stroke-color:#92278f">Isla educadora</i><br>Crear identidad en<br>torno a<br>innovación,<br>cultura y ciudad<br>educativa local</div></div>
<div class="bx" style="left:1137px;top:352px;border-color:#92278f"><div class="bt"><b style="color:#92278f;-webkit-text-stroke:0.1px #92278f">10.8</b><br>Consolidación de<br>estructuras y<br>dinámicas de<br>participación</div></div>
<div class="bx" style="left:1089px;top:401px;border-color:#92278f"><div class="bt"><b style="color:#92278f;-webkit-text-stroke:0.1px #92278f">10.9</b><br>Apuesta por la<br>cultura. Reforzar<br>programación y<br>actividad cultural</div></div>
<div class="bx" style="left:224px;top:470px;border-color:#0a6db7"><div class="bt"><b style="color:#0a6db7;-webkit-text-stroke:0.1px #0a6db7">2.12</b><br>Estudio e<br>inventario de<br>posibles<br>soluciones<br>bioclimáticas en<br>rehabilitación</div></div>
<div class="bx" style="left:272px;top:470px;border-color:#0a6db7"><div class="bt"><b style="color:#0a6db7;-webkit-text-stroke:0.1px #0a6db7">2.13</b><br>Estudio<br>estratégico<br>urbanístico sobre<br>el traslado del<br>puerto</div></div>
<div class="bx" style="left:331px;top:470px;border-color:#00a69c"><div class="bt"><b style="color:#00a69c;-webkit-text-stroke:0.1px #00a69c">3.8</b><br>Estudio de<br>soluciones<br>basadas en la<br>naturaleza para<br>adaptación<br>urbana al clima</div></div>
<div class="bx" style="left:547px;top:470px;border-color:#f7931e"><div class="bt"><b style="color:#f7931e;-webkit-text-stroke:0.1px #f7931e">5.8</b><br>Estudiar sistema<br>comarcal de<br>movilidad a<br>demanda y<br>transporte público</div></div>
<div class="bx" style="left:596px;top:470px;border-color:#f7931e"><div class="bt"><b style="color:#f7931e;-webkit-text-stroke:0.1px #f7931e">5.9</b><br>Estudiar<br>soluciones de<br>movilidad<br>acuática: cruce de<br>la ría</div></div>
<div class="bx" style="left:766px;top:470px;border-color:#f074ab"><div class="bt"><b style="color:#f074ab;-webkit-text-stroke:0.1px #f074ab">7.9</b><br>Estudio:<br>innovación y<br>traslado del<br>puerto y la<br>actividad<br>pesquera</div></div>
<div class="bx" style="left:814px;top:470px;border-color:#f074ab"><div class="bt"><b style="color:#f074ab;-webkit-text-stroke:0.1px #f074ab">7.10</b><br>Exploración de<br>nichos<br>económicos<br>ligados a retos<br>climáticos y<br>ecológicos</div></div>
<div class="bx" style="left:766px;top:518px;border-color:#f074ab"><div class="bt"><b style="color:#f074ab;-webkit-text-stroke:0.1px #f074ab">7.11</b><br>Viabilidad aprov.<br>recursos: sal,<br>salicornia,<br>mojama,<br>especies...</div></div>
<div class="bx" style="left:814px;top:518px;border-color:#f074ab"><div class="bt"><b style="color:#f074ab;-webkit-text-stroke:0.1px #f074ab">7.12</b><br>Estudiar<br>promoción de<br>industria<br>transformadora<br>local</div></div>
<div class="bx" style="left:225px;top:589px;border-color:#0a6db7"><div class="bt"><b style="color:#0a6db7;-webkit-text-stroke:0.1px #0a6db7">2.14</b><br>Pilotos diseño<br>participativo. Eje<br>Pescadores; eje<br>Plaza Flores-<br>Diego Pérez<br>Pascual</div></div>
<div class="bx" style="left:272px;top:589px;border-color:#0a6db7"><div class="bt"><b style="color:#0a6db7;-webkit-text-stroke:0.1px #0a6db7">2.15</b><br>Convenios para<br>uso provisional<br>de solares como<br>dotaciones de<br>cercanía</div></div>
<div class="bx" style="left:225px;top:638px;border-color:#0a6db7"><div class="bt"><b style="color:#0a6db7;-webkit-text-stroke:0.1px #0a6db7">2.16</b><br>Apertura de<br>patios de centros<br>educativos en<br>horario de tarde</div></div>
<div class="bx" style="left:272px;top:638px;border-color:#0a6db7"><div class="bt"><b style="color:#0a6db7;-webkit-text-stroke:0.1px #0a6db7">2.17</b><br>Urbanismo<br>táctico.<br>Micro<br>instalaciones<br>deportivas</div></div>
<div class="bx" style="left:440px;top:589px;border-color:#7d2b59"><div class="bt"><b style="color:#7d2b59;-webkit-text-stroke:0.1px #7d2b59">4.8</b><br>Comunidad<br>energética local a<br>partir de centros<br>educativos</div></div>
<div class="bx" style="left:547px;top:589px;border-color:#f7931e"><div class="bt"><b style="color:#f7931e;-webkit-text-stroke:0.1px #f7931e">5.10</b><br>Acciones de<br>urbanismo táctico<br>en caminabilidad<br>(acciones ágiles y<br>reversibles)</div></div>
<div class="bx" style="left:596px;top:589px;border-color:#f7931e"><div class="bt"><b style="color:#f7931e;-webkit-text-stroke:0.1px #f7931e">5.11</b><br>Flota de bicis<br>municipales</div></div>
<div class="bx" style="left:657px;top:589px;border-color:#fdb913"><div class="bt"><b style="color:#fdb913;-webkit-text-stroke:0.1px #fdb913">5.8</b><br>Actividades que<br>promuevan<br>relaciones inter-<br>generacionales<br>(banco del<br>tiempo...)</div></div>
<div class="bx" style="left:766px;top:589px;border-color:#f074ab"><div class="bt"><b style="color:#f074ab;-webkit-text-stroke:0.1px #f074ab">7.13</b><br>Fomentar un<br>mayor uso de la<br>segunda<br>residencia,<br>vínculo población<br>flotante</div></div>
<div class="bx" style="left:1090px;top:589px;border-color:#92278f"><div class="bt"><b style="color:#92278f;-webkit-text-stroke:0.1px #92278f">10.10</b><br><i style="color:#92278f;-webkit-text-stroke-color:#92278f">Ayuntamiento en</i><br><i style="color:#92278f;-webkit-text-stroke-color:#92278f">tu barrio</i><br>Servicios e<br>información a la<br>comunidad de<br>forma periódica</div></div>
<div class="bx" style="left:116px;top:705px;border-color:#8cc63f"><div class="bt"><b style="color:#8cc63f;-webkit-text-stroke:0.1px #8cc63f">1.7</b><br>Ordenanza de<br>zonas verdes de<br>uso público y<br>utilización de<br>especies locales</div></div>
<div class="bx" style="left:164px;top:705px;border-color:#8cc63f"><div class="bt"><b style="color:#8cc63f;-webkit-text-stroke:0.1px #8cc63f">1.8</b><br>Recuperación del<br>entorno de la Ría.<br>Educación<br>ambiental y<br>limpieza</div></div>
<div class="bx" style="left:272px;top:705px;border-color:#0a6db7"><div class="bt"><b style="color:#0a6db7;-webkit-text-stroke:0.1px #0a6db7">2.18</b><br>Ordenanza de<br>criterios de<br>calidad del diseño<br>urbano y bordes<br>con marisma y<br>playa</div></div>
<div class="bx" style="left:332px;top:705px;border-color:#00a69c"><div class="bt"><b style="color:#00a69c;-webkit-text-stroke:0.1px #00a69c">3.9</b><br>Estudio de<br>edificaciones<br>afectadas por la<br>subida del nivel<br>del mar</div></div>
<div class="bx" style="left:440px;top:705px;border-color:#7d2b59"><div class="bt"><b style="color:#7d2b59;-webkit-text-stroke:0.1px #7d2b59">4.9</b><br>Recogida y<br>reciclaje de aguas<br>para riego y<br>limpieza</div></div>
<div class="bx" style="left:487px;top:705px;border-color:#7d2b59"><div class="bt"><b style="color:#7d2b59;-webkit-text-stroke:0.1px #7d2b59">4.10</b><br>Ordenanza para<br>incentivar y<br>facilitar la<br>transición a<br>energías<br>renovables</div></div>
<div class="bx" style="left:705px;top:703px;border-color:#fdb913"><div class="bt"><b style="color:#fdb913;-webkit-text-stroke:0.1px #fdb913">5.9</b><br>Centro de<br>dinamización y<br>participación<br>juvenil</div></div>
<div class="bx" style="left:766px;top:703px;border-color:#f074ab"><div class="bt"><b style="color:#f074ab;-webkit-text-stroke:0.1px #f074ab">7.14</b><br>Creación de<br>marca &quot;Isla<br>Cristina&quot; y<br>desarrollo de<br>productos<br>relacionados</div></div>
<div class="bx" style="left:813px;top:703px;border-color:#f074ab"><div class="bt"><b style="color:#f074ab;-webkit-text-stroke:0.1px #f074ab">7.15</b><br>Integración en<br>GDR Guadiodiel y<br>GDR Costaluz</div></div>
<div class="bx" style="left:766px;top:754px;border-color:#f074ab"><div class="bt"><b style="color:#f074ab;-webkit-text-stroke:0.1px #f074ab">7.16</b><br>Itinerarios<br>paisajísticos<br><i style="color:#f074ab;-webkit-text-stroke-color:#f074ab">Inventario de</i><br><i style="color:#f074ab;-webkit-text-stroke-color:#f074ab">puestas de sol</i></div></div>
<div class="bx" style="left:921px;top:703px;border-color:#8b7535"><div class="bt"><b style="color:#8b7535;-webkit-text-stroke:0.1px #8b7535">8.5</b><br>Alojamientos<br>protegidos para<br>mujeres víctimas<br>de violencia de<br>género y<br>personas sin<br>hogar</div></div>
<div class="bx" style="left:873px;top:753px;border-color:#8b7535"><div class="bt"><b style="color:#8b7535;-webkit-text-stroke:0.1px #8b7535">8.6</b><br>Realojo y<br>eliminación de<br>viviendas<br>provisionales y<br>precarias</div></div>
<div class="bx" style="left:1090px;top:703px;border-color:#92278f"><div class="bt"><b style="color:#92278f;-webkit-text-stroke:0.1px #92278f">10.11</b><br>Reglamento<br>municipal de<br>participación<br>ciudadana</div></div>
<div class="bx" style="left:1138px;top:703px;border-color:#92278f"><div class="bt"><b style="color:#92278f;-webkit-text-stroke:0.1px #92278f">10.12</b><br>Delegación<br>municipal de<br>Agenda Urbana y<br>Sostenibilidad,<br>transversal y<br>troncal</div></div>
<div class="a" style="left:127px;top:815px;width:73px;height:78px;background:#fcfcfc"></div>
<svg class="a" style="left:0;top:0;overflow:visible" width="1" height="1"><rect x="127" y="864" width="73" height="1" fill="#8cc63f" opacity="0.62"/><text x="141" y="875.7" textLength="45" lengthAdjust="spacingAndGlyphs" font-family="Liberation Sans" font-weight="bold" font-size="7.3" fill="#8cc63f" stroke="#8cc63f" stroke-width="0.22">TERRITORIO,</text><text x="148.5" y="883.7" textLength="29.5" lengthAdjust="spacingAndGlyphs" font-family="Liberation Sans" font-weight="bold" font-size="7.3" fill="#8cc63f" stroke="#8cc63f" stroke-width="0.22">PAISAJE</text><text x="131.6" y="892.1" textLength="64.1" lengthAdjust="spacingAndGlyphs" font-family="Liberation Sans" font-weight="bold" font-size="7.3" fill="#8cc63f" stroke="#8cc63f" stroke-width="0.22">Y BIODIVERSIDAD</text></svg>
<svg class="a" style="left:138px;top:812px;overflow:visible" width="52" height="50" viewBox="0 0 52 50" ><path d="M7.6 14.5A2.9 2.9 0 0 1 7.401 8.707A4.6 4.6 0 1 1 12.000 13.200V14.5H7.6V14.5Z" fill="#fcfcfc" stroke="#8cc63f" stroke-width="1.15"/><path d="M34.6 20.6A3.0 3.0 0 0 1 34.215 14.625A4.6 4.6 0 0 1 43.400 15.016A2.8 2.8 0 0 1 43.100 20.600V20.6H34.6V20.6Z" fill="#fcfcfc" stroke="#8cc63f" stroke-width="1.15"/><path d="M17.000 35.127A6.6 6.6 0 1 1 9.824 25.367A5.4 5.4 0 0 1 13.918 15.679A4.5 4.5 0 1 1 20.028 15.729A5.4 5.4 0 0 1 24.326 25.403A6.6 6.6 0 1 1 17.000 35.127Z" fill="#fcfcfc" stroke="#8cc63f" stroke-width="1.15"/><g stroke="#8cc63f" stroke-width="1.15" fill="none" stroke-linecap="round"><path d="M17 20.6V36.5M13.2 22.2L17 25.8L20.8 22.2M11.8 29.8L17 35L22.3 29.8"/><path d="M15.6 37.5V44.5M18.5 37.5V44.5"/><path d="M4.9 44.6H45.9"/><path d="M30.3 35.5H46.1M30.3 39H46.1M30.3 41.2H46.1M31.6 35.5V44.5M44.6 35.5V44.5"/></g></svg>
<div class="a" style="left:232px;top:826px;width:78px;height:67px;background:#fcfcfc"></div>
<svg class="a" style="left:0;top:0;overflow:visible" width="1" height="1"><rect x="232" y="870" width="78" height="1" fill="#0a6db7" opacity="0.62"/><text x="253.8" y="883.2" textLength="33.89999999999998" lengthAdjust="spacingAndGlyphs" font-family="Liberation Sans" font-weight="bold" font-size="7.3" fill="#0a6db7" stroke="#0a6db7" stroke-width="0.22">MODELO</text><text x="249" y="892" textLength="43.30000000000001" lengthAdjust="spacingAndGlyphs" font-family="Liberation Sans" font-weight="bold" font-size="7.3" fill="#0a6db7" stroke="#0a6db7" stroke-width="0.22">DE CIUDAD</text></svg>
<svg class="a" style="left:244px;top:825px;overflow:visible" width="54" height="42" viewBox="0 0 54 42" ><g stroke="#0a6db7" stroke-width="1.25" fill="#fcfcfc" stroke-linejoin="miter"><path d="M6 29.6V18.2L17 8.3L28 17.8V29.6Z" stroke="none"/><path d="M35.5 29.6V17.8L35.6 8.3L46.8 18.2V29.6Z" stroke="none"/><path d="M6 18.2V29.6M46.8 18.2V29.6" fill="none"/><path d="M17 3.2L29.5 12.2V17.8H28L17 8.3L6 18.2H4.1V12.4Z"/><path d="M35.6 3.2L48.7 12.4V18.2H46.8L35.6 8.3L24.6 17.8H23.1V12.2Z"/><rect x="3.2" y="29.6" width="46.4" height="9"/><path d="M3.2 34H40.6" fill="none"/><path d="M15.4 34V19.5L26.4 10.5L37.6 19.5V34Z"/><path d="M26.4 5.5L39.4 14.7V20.4H37.6L26.4 11L15.2 20.4H13.5V14.7Z"/><circle cx="26.4" cy="19.6" r="3.2"/><rect x="23.2" y="26.4" width="6.4" height="7.6"/></g><circle cx="44.3" cy="34" r="0.6" fill="#0a6db7"/></svg>
<div class="a" style="left:342px;top:826px;width:77px;height:67px;background:#fcfcfc"></div>
<svg class="a" style="left:0;top:0;overflow:visible" width="1" height="1"><rect x="342" y="871" width="77" height="1" fill="#00a69c" opacity="0.62"/><text x="343" y="884.6" textLength="76" lengthAdjust="spacingAndGlyphs" font-family="Liberation Sans" font-weight="bold" font-size="7.3" fill="#00a69c" stroke="#00a69c" stroke-width="0.22">CAMBIO CLIMÁTICO</text><text x="353.5" y="892.8" textLength="54.30000000000001" lengthAdjust="spacingAndGlyphs" font-family="Liberation Sans" font-weight="bold" font-size="7.3" fill="#00a69c" stroke="#00a69c" stroke-width="0.22">Y RESILIENCIA</text></svg>
<svg class="a" style="left:358px;top:825px;overflow:visible" width="44" height="42" viewBox="0 0 44 42" ><circle cx="32.1" cy="12.8" r="8.8" fill="none" stroke="#00a69c" stroke-width="1.35"/><path d="M8.6 26.6A4.0 4.0 0 1 1 11.395 19.738A6.6 6.6 0 1 1 23.385 19.934A4.6 4.6 0 1 1 27.600 26.600V26.6H8.6V26.6Z" fill="#fcfcfc" stroke="#00a69c" stroke-width="1.35"/><g stroke="#00a69c" stroke-width="1.35" fill="none" stroke-linejoin="miter" stroke-linecap="butt"><path d="M17.9 26.8L15.6 31.2H20.6L17.2 39.4"/><path d="M11.2 29.8L8.9 34.4H12.2L9.6 39.2"/><path d="M26.6 29.8L24.5 34.4H27.5L25.2 39.2"/></g></svg>
<div class="a" style="left:444px;top:821px;width:83.5px;height:72.5px;background:#fcfcfc"></div>
<svg class="a" style="left:0;top:0;overflow:visible" width="1" height="1"><rect x="451.6" y="865" width="68.39999999999998" height="1" fill="#7d2b59" opacity="0.62"/><text x="447.7" y="877" textLength="75.59999999999997" lengthAdjust="spacingAndGlyphs" font-family="Liberation Sans" font-weight="bold" font-size="7.3" fill="#7d2b59" stroke="#7d2b59" stroke-width="0.22">GESTIÓN SOSTENIBLE</text><text x="453.9" y="884.8" textLength="63.30000000000007" lengthAdjust="spacingAndGlyphs" font-family="Liberation Sans" font-weight="bold" font-size="7.3" fill="#7d2b59" stroke="#7d2b59" stroke-width="0.22">DE LOS RECURSOS</text><text x="444.6" y="892.2" textLength="82.60000000000002" lengthAdjust="spacingAndGlyphs" font-family="Liberation Sans" font-weight="bold" font-size="7.3" fill="#7d2b59" stroke="#7d2b59" stroke-width="0.22">Y ECONOMÍA CIRCULAR</text></svg>
<svg class="a" style="left:465px;top:825px;overflow:visible" width="42" height="40" viewBox="0 0 42 40" ><g stroke="#7d2b59" stroke-width="1.0" fill="none"><path d="M3.9 35.4H38"/><path d="M5.5 35.4V27.3H11.4V35.4M14.2 35.4V22.1H19.9V35.4M22.5 35.4V17.5H28.4V35.4M31.5 35.4V12.7H37.4V35.4"/><path d="M8.3 18.4L31 5.2M25.3 4.4L31 5.2L28.4 10"/></g></svg>
<div class="a" style="left:555px;top:821px;width:77px;height:67px;background:#fcfcfc"></div>
<svg class="a" style="left:0;top:0;overflow:visible" width="1" height="1"><rect x="555" y="866" width="77" height="1" fill="#f7931e" opacity="0.62"/><text x="572" y="879" textLength="43.200000000000045" lengthAdjust="spacingAndGlyphs" font-family="Liberation Sans" font-weight="bold" font-size="7.3" fill="#f7931e" stroke="#f7931e" stroke-width="0.22">MOVILIDAD</text><text x="564.7" y="887.5" textLength="58.19999999999993" lengthAdjust="spacingAndGlyphs" font-family="Liberation Sans" font-weight="bold" font-size="7.3" fill="#f7931e" stroke="#f7931e" stroke-width="0.22">Y TRANSPORTE</text></svg>
<svg class="a" style="left:570px;top:818px;overflow:visible" width="48" height="48" viewBox="0 0 48 48" ><g stroke="#f7931e" stroke-width="1.6" fill="none" stroke-linejoin="round"><path d="M10 23.1H8.2Q5.2 23.1 5.2 20.1V7.7Q5.2 4.7 8.2 4.7H39.8Q42.8 4.7 42.8 7.7V20.1Q42.8 23.1 39.8 23.1H38.2"/><path d="M17.2 23.1H31"/><path d="M5.2 15.7H29.1V4.7M34.6 4.7V15.7H42.8M13.6 4.7V15.7M21.5 4.7V15.7"/><circle cx="13.6" cy="23.1" r="3.5"/><circle cx="34.6" cy="23.1" r="3.5"/><path d="M10.1 23.5V32.5Q10.1 36.2 13.8 36.2H16Q19.4 36.2 19.4 33V32.6Q19.4 30.6 22.6 30.6Q25.7 30.6 25.7 33.5Q25.9 37.2 29.6 37.2"/><path d="M37.5 32.3H34.4Q29.6 32.3 29.6 37.1Q29.6 42 34.4 42H37.5Z"/><path d="M37.5 34.6H41.4M37.5 39.3H41.4"/></g></svg>
<div class="a" style="left:665px;top:820px;width:76px;height:72.70000000000005px;background:#fcfcfc"></div>
<svg class="a" style="left:0;top:0;overflow:visible" width="1" height="1"><rect x="668" y="863" width="70" height="1" fill="#fdb913" opacity="0.62"/><text x="669.3" y="875.4" textLength="66.70000000000005" lengthAdjust="spacingAndGlyphs" font-family="Liberation Sans" font-weight="bold" font-size="7.3" fill="#fdb913" stroke="#fdb913" stroke-width="0.22">COHESIÓN SOCIAL</text><text x="682" y="883.3" textLength="43.299999999999955" lengthAdjust="spacingAndGlyphs" font-family="Liberation Sans" font-weight="bold" font-size="7.3" fill="#fdb913" stroke="#fdb913" stroke-width="0.22">E IGUALDAD</text><text x="666" y="891.5" textLength="73.39999999999998" lengthAdjust="spacingAndGlyphs" font-family="Liberation Sans" font-weight="bold" font-size="7.3" fill="#fdb913" stroke="#fdb913" stroke-width="0.22">DE OPORTUNIDADES</text></svg>
<svg class="a" style="left:682px;top:818px;overflow:visible" width="44" height="42" viewBox="0 0 44 42" ><g stroke="#fdb913" stroke-width="1.1" fill="#fcfcfc" stroke-linecap="round" stroke-linejoin="round"><path d="M21.4 4.4V6.2M17.6 6.2L18.5 7.3M25.2 6.2L24.3 7.3" fill="none"/><path d="M10.4 21.4Q10.4 17 15.6 16.6Q20.8 17 20.8 21.4Z"/><path d="M22 21.4Q22 17 27.2 16.6Q32.4 17 32.4 21.4Z"/><circle cx="15.6" cy="12.8" r="2.8"/><circle cx="27.2" cy="12.8" r="2.8"/><path d="M15 25.6V22.4Q15 18 21.4 17.8Q27.8 18 27.8 22.4V25.6Z"/><circle cx="21.4" cy="12.4" r="3.2"/><path d="M20.2 18.2L21.4 20.6L22.6 18.2M17.4 22.6V25.6M25.4 22.6V25.6" fill="none"/><g fill="none"><path d="M4.6 25.8V17.4Q4.6 15.6 6.4 15.6Q8.3 15.6 8.3 17.4V25.8"/><path d="M4.6 25.8Q4.6 31 8 34.6L11 38.4"/><path d="M8.3 25.8Q9.4 25.2 10.6 25.6Q17.5 29 18.4 38.4"/><path d="M9.2 27.6L12.4 32.6"/><path d="M38.2 25.8V17.4Q38.2 15.6 36.4 15.6Q34.5 15.6 34.5 17.4V25.8"/><path d="M38.2 25.8Q38.2 31 34.8 34.6L31.8 38.4"/><path d="M34.5 25.8Q33.4 25.2 32.2 25.6Q25.3 29 24.4 38.4"/><path d="M33.6 27.6L30.4 32.6"/></g></g></svg>
<div class="a" style="left:773.5px;top:827.8px;width:76.0px;height:64.90000000000009px;background:#fcfcfc"></div>
<svg class="a" style="left:0;top:0;overflow:visible" width="1" height="1"><rect x="773.5" y="871" width="76.0" height="1" fill="#f074ab" opacity="0.62"/><text x="790" y="883.6" textLength="42" lengthAdjust="spacingAndGlyphs" font-family="Liberation Sans" font-weight="bold" font-size="7.3" fill="#f074ab" stroke="#f074ab" stroke-width="0.22">ECONOMÍA</text><text x="795" y="892" textLength="32" lengthAdjust="spacingAndGlyphs" font-family="Liberation Sans" font-weight="bold" font-size="7.3" fill="#f074ab" stroke="#f074ab" stroke-width="0.22">URBANA</text></svg>
<svg class="a" style="left:788px;top:826px;overflow:visible" width="46" height="42" viewBox="0 0 46 42" ><g stroke="#f074ab" stroke-width="1.05" fill="#fcfcfc" stroke-linejoin="round" stroke-linecap="round"><path d="M16.4 14.6L15.6 11.4Q13.4 10.6 12.6 11.6L12.8 16Q10 18 9 20.2H7Q5 20.4 5 22.4V26.6Q5 28.4 7 28.6H9.4Q10.4 31.4 11.6 33Q10.4 38 14.8 38.2Q17.4 38.3 18 35.8H26.4Q27.2 38.3 29.8 38.2Q34.2 38 33.6 33.4Q36.8 29.6 36.7 24.4Q36.6 17 30.2 14.6Z"/><path d="M35.8 19.3Q41.4 19.2 41.3 15.2Q41.2 13.2 40.4 12.2" fill="none"/><circle cx="23.4" cy="10.3" r="7.3"/><circle cx="23.4" cy="10.6" r="4.0" fill="none"/><path d="M16.1 17.2H30.7" fill="none"/><circle cx="15.4" cy="22.5" r="1.3" fill="none"/></g></svg>
<div class="a" style="left:882px;top:834.7px;width:76.60000000000002px;height:57.299999999999955px;background:#fcfcfc"></div>
<svg class="a" style="left:0;top:0;overflow:visible" width="1" height="1"><rect x="882" y="879" width="76.60000000000002" height="1" fill="#8b7535" opacity="0.62"/><text x="902" y="892" textLength="36" lengthAdjust="spacingAndGlyphs" font-family="Liberation Sans" font-weight="bold" font-size="7.3" fill="#8b7535" stroke="#8b7535" stroke-width="0.22">VIVIENDA</text></svg>
<svg class="a" style="left:896px;top:830px;overflow:visible" width="48" height="46" viewBox="0 0 48 46" ><g stroke="#8b7535" stroke-width="0.95" fill="none" stroke-linecap="round" stroke-linejoin="round"><path d="M9.5 20.6L6.2 24.4H8L10.3 42H30.4L30.8 38.2M31.2 34.8L32.8 24.4H34.5L30.8 20.4"/><path d="M12 18.6L17.6 13.3"/><circle cx="28.1" cy="11.3" r="6.1"/><circle cx="26.4" cy="10.8" r="1.2"/><ellipse cx="20.4" cy="13.8" rx="2.3" ry="3.9"/><path d="M31.6 17.2L43.4 25.2Q44 26.6 42.4 26.6L30.2 18.6"/><path d="M33.6 19.2L35 18.8L36.2 20.6L37.4 20.2L38.6 22L39.8 21.6"/></g></svg>
<div class="a" style="left:989px;top:832.7px;width:78.59999999999991px;height:59.89999999999998px;background:#fcfcfc"></div>
<svg class="a" style="left:0;top:0;overflow:visible" width="1" height="1"><rect x="989" y="879" width="78.59999999999991" height="1" fill="#d1222a" opacity="0.62"/><text x="1003.5" y="891.8" textLength="49.5" lengthAdjust="spacingAndGlyphs" font-family="Liberation Sans" font-weight="bold" font-size="7.3" fill="#d1222a" stroke="#d1222a" stroke-width="0.22">ERA DIGITAL</text></svg>
<svg class="a" style="left:1004px;top:830px;overflow:visible" width="48" height="46" viewBox="0 0 48 46" ><g stroke="#d1222a" stroke-width="1.0" fill="#fcfcfc" stroke-linejoin="round"><path d="M9.5 20.6Q5.5 21.6 5.5 23.5V36.5Q5.5 41.5 24 41.5Q42.5 41.5 42.5 36.5V23.5Q42.5 21.6 38.5 20.6" fill="none"/><rect x="11.8" y="9.3" width="11.6" height="20"/><rect x="23.4" y="4.3" width="13.3" height="25"/><g fill="none"><rect x="16.1" y="12.3" width="3.2" height="4.3" rx="0.8"/><rect x="16.1" y="19.6" width="3.2" height="4" rx="0.8"/><rect x="16.1" y="26.4" width="3.2" height="3" rx="0.8"/><rect x="26.9" y="7.5" width="6.5" height="3.5" rx="0.8"/><rect x="26.9" y="14" width="6.5" height="3.6" rx="0.8"/><rect x="26.9" y="20.4" width="6.5" height="3.2" rx="0.8"/><rect x="26.9" y="26.4" width="6.5" height="3" rx="0.8"/></g><path d="M5.5 23.5Q5.5 29 24 29Q42.5 29 42.5 23.5V36.5Q42.5 41.5 24 41.5Q5.5 41.5 5.5 36.5Z"/><path d="M8.5 35.5Q12 37.2 17.5 37.6M30.5 37.6Q36 37.2 39.5 35.5" fill="none"/><circle cx="24.1" cy="35" r="5.9"/><path d="M22.6 32.2V37.6L27.2 35Z" fill="none"/></g></svg>
<div class="a" style="left:1097px;top:824px;width:78px;height:69px;background:#fcfcfc"></div>
<svg class="a" style="left:0;top:0;overflow:visible" width="1" height="1"><rect x="1097" y="871" width="78" height="1" fill="#92278f" opacity="0.62"/><text x="1105" y="884.3" textLength="62.5" lengthAdjust="spacingAndGlyphs" font-family="Liberation Sans" font-weight="bold" font-size="7.3" fill="#92278f" stroke="#92278f" stroke-width="0.22">INSTRUMENTOS</text><text x="1104" y="893" textLength="64.20000000000005" lengthAdjust="spacingAndGlyphs" font-family="Liberation Sans" font-weight="bold" font-size="7.3" fill="#92278f" stroke="#92278f" stroke-width="0.22">Y GOBERNANZA</text></svg>
<svg class="a" style="left:1116px;top:822px;overflow:visible" width="42" height="44" viewBox="0 0 42 44" ><g stroke="#92278f" stroke-width="1.0" fill="#fcfcfc" stroke-linejoin="round"><path d="M7.1 12.5Q7.1 10.600000000000001 8.899999999999999 10.600000000000001H13.3Q15.1 10.600000000000001 15.1 12.5V19.1H14.1V28.1H11.6V20.9H10.6V28.1H8.1V19.1H7.1Z"/><path d="M8.1 14.4V19.1M14.1 14.4V19.1" fill="none"/><circle cx="11.1" cy="7.9" r="2.0"/><path d="M17.2 10.1Q17.2 8.2 19.0 8.2H23.4Q25.2 8.2 25.2 10.1V16.7H24.2V25.7H21.7V18.5H20.7V25.7H18.2V16.7H17.2Z"/><path d="M18.2 12.0V16.7M24.2 12.0V16.7" fill="none"/><circle cx="21.2" cy="5.5" r="2.0"/><path d="M13.100000000000001 17.6Q13.100000000000001 15.7 14.900000000000002 15.7H19.3Q21.1 15.7 21.1 17.6V24.2H20.1V33.2H17.6V26H16.6V33.2H14.100000000000001V24.2H13.100000000000001Z"/><path d="M14.100000000000001 19.5V24.2M20.1 19.5V24.2" fill="none"/><circle cx="17.1" cy="13" r="2.0"/><path d="M24.6 17.6Q24.6 15.7 26.400000000000002 15.7H30.8Q32.6 15.7 32.6 17.6V24.2H31.6V33.2H29.1V26H28.1V33.2H25.6V24.2H24.6Z"/><path d="M25.6 19.5V24.2M31.6 19.5V24.2" fill="none"/><circle cx="28.6" cy="13" r="2.0"/><path d="M6.300000000000001 26.200000000000003Q6.300000000000001 24.3 8.100000000000001 24.3H12.5Q14.3 24.3 14.3 26.200000000000003V32.8H13.3V41.8H10.8V34.6H9.8V41.8H7.300000000000001V32.8H6.300000000000001Z"/><path d="M7.300000000000001 28.1V32.8M13.3 28.1V32.8" fill="none"/><circle cx="10.3" cy="21.6" r="2.0"/><path d="M16.4 26.200000000000003Q16.4 24.3 18.2 24.3H22.599999999999998Q24.4 24.3 24.4 26.200000000000003V32.8H23.4V41.8H20.9V34.6H19.9V41.8H17.4V32.8H16.4Z"/><path d="M17.4 28.1V32.8M23.4 28.1V32.8" fill="none"/><circle cx="20.4" cy="21.6" r="2.0"/><path d="M26.3 26.200000000000003Q26.3 24.3 28.1 24.3H32.5Q34.3 24.3 34.3 26.200000000000003V32.8H33.3V41.8H30.8V34.6H29.8V41.8H27.3V32.8H26.3Z"/><path d="M27.3 28.1V32.8M33.3 28.1V32.8" fill="none"/><circle cx="30.3" cy="21.6" r="2.0"/></g></svg>
</body></html>
